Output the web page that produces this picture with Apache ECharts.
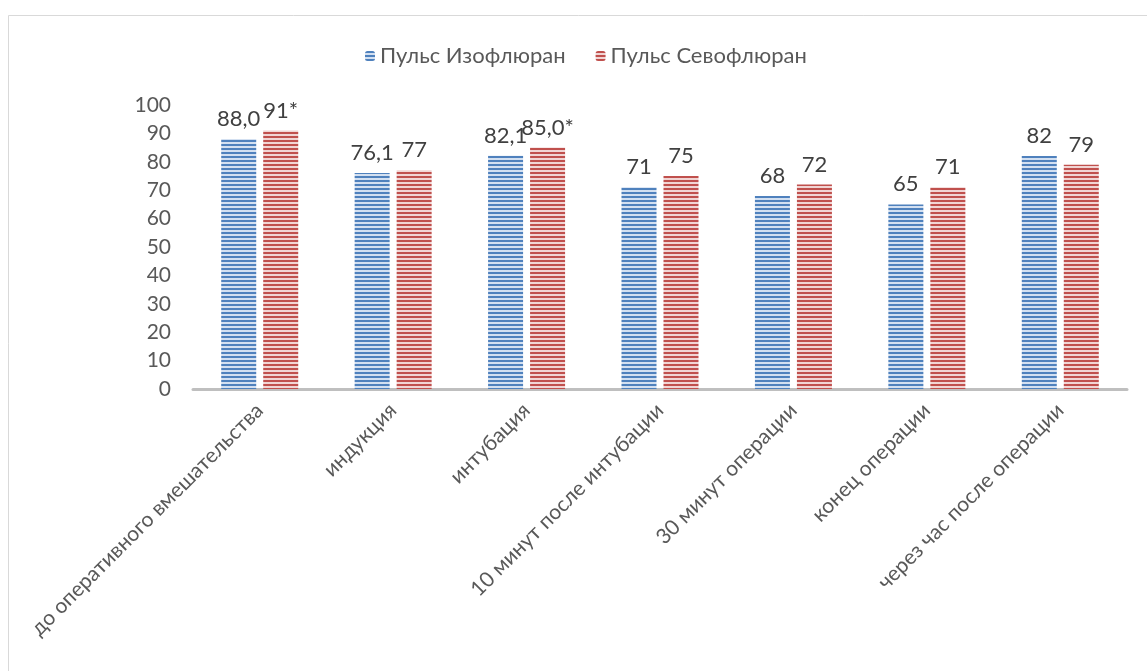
<!DOCTYPE html>
<html>
<head>
<meta charset="utf-8">
<script src="https://cdn.jsdelivr.net/npm/echarts@6/dist/echarts.min.js"></script>
<style>html,body{margin:0;padding:0;background:#fff}#c{width:1147px;height:671px}</style>
</head>
<body>
<div id="c"></div>
<script>
const categories = ['до оперативного вмешательства','индукция','интубация','10 минут после интубации','30 минут операции','конец операции','через час после операции'];
const seriesNames = ['Пульс Изофлюран','Пульс Севофлюран'];
const isoValues = [88.0, 76.1, 82.1, 71, 68, 65, 82];
const sevoValues = [91, 77, 85.0, 75, 72, 71, 79];
const isoLabels = ['88,0','76,1','82,1','71','68','65','82'];
const sevoLabels = ['91*','77','85,0*','75','72','71','79'];
const yTicks = [0,10,20,30,40,50,60,70,80,90,100];

function stripes(dark, light){
  const c = document.createElement('canvas');
  c.width = 4; c.height = 4;
  const g = c.getContext('2d');
  g.fillStyle = light; g.fillRect(0,0,4,4);
  g.fillStyle = dark; g.fillRect(0,0,4,2);
  return {image: c, repeat: 'repeat'};
}
const blue = stripes('#4f81bd','#d3e0f1');
const red = stripes('#c0504d','#f1d5d4');
const FONT = 'Lato, "Noto Sans", sans-serif';

const chart = echarts.init(document.getElementById('c'), null, {renderer:'canvas'});
chart.setOption({
  animation:false,
  backgroundColor:'#fff',
  graphic:[{type:'rect', shape:{x:8.5,y:15.5,width:1200,height:700}, style:{fill:'none',stroke:'#d9d9d9',lineWidth:1}, silent:true}],
  legend:{
    left:360, top:40, itemWidth:10, itemHeight:10, itemGap:30,
    textStyle:{fontFamily:FONT, fontSize:22, color:'#595959'},
    data:seriesNames
  },
  grid:{left:193, right:20, top:105, bottom:282, containLabel:false},
  xAxis:{
    type:'category', data:categories,
    axisLine:{lineStyle:{color:'#bfbfbf', width:3}},
    axisTick:{show:false},
    axisLabel:{rotate:45, margin:18, interval:0, fontFamily:FONT, fontSize:21, color:'#595959'}
  },
  yAxis:{
    type:'value', min:yTicks[0], max:yTicks[yTicks.length-1], interval:10,
    axisLine:{show:false}, axisTick:{show:false}, splitLine:{show:false},
    axisLabel:{margin:22, fontFamily:FONT, fontSize:21, color:'#595959'}
  },
  series:[
    {name:seriesNames[0], type:'bar', data:isoValues, barWidth:35, barGap:'20%',
     itemStyle:{color:blue},
     label:{show:true, position:'top', distance:9, fontFamily:FONT, fontSize:22, color:'#404040',
       formatter:p=>isoLabels[p.dataIndex]}},
    {name:seriesNames[1], type:'bar', data:sevoValues, barWidth:35,
     itemStyle:{color:red},
     label:{show:true, position:'top', distance:9, fontFamily:FONT, fontSize:22, color:'#404040',
       formatter:p=>sevoLabels[p.dataIndex]}}
  ]
});
</script>
</body>
</html>
